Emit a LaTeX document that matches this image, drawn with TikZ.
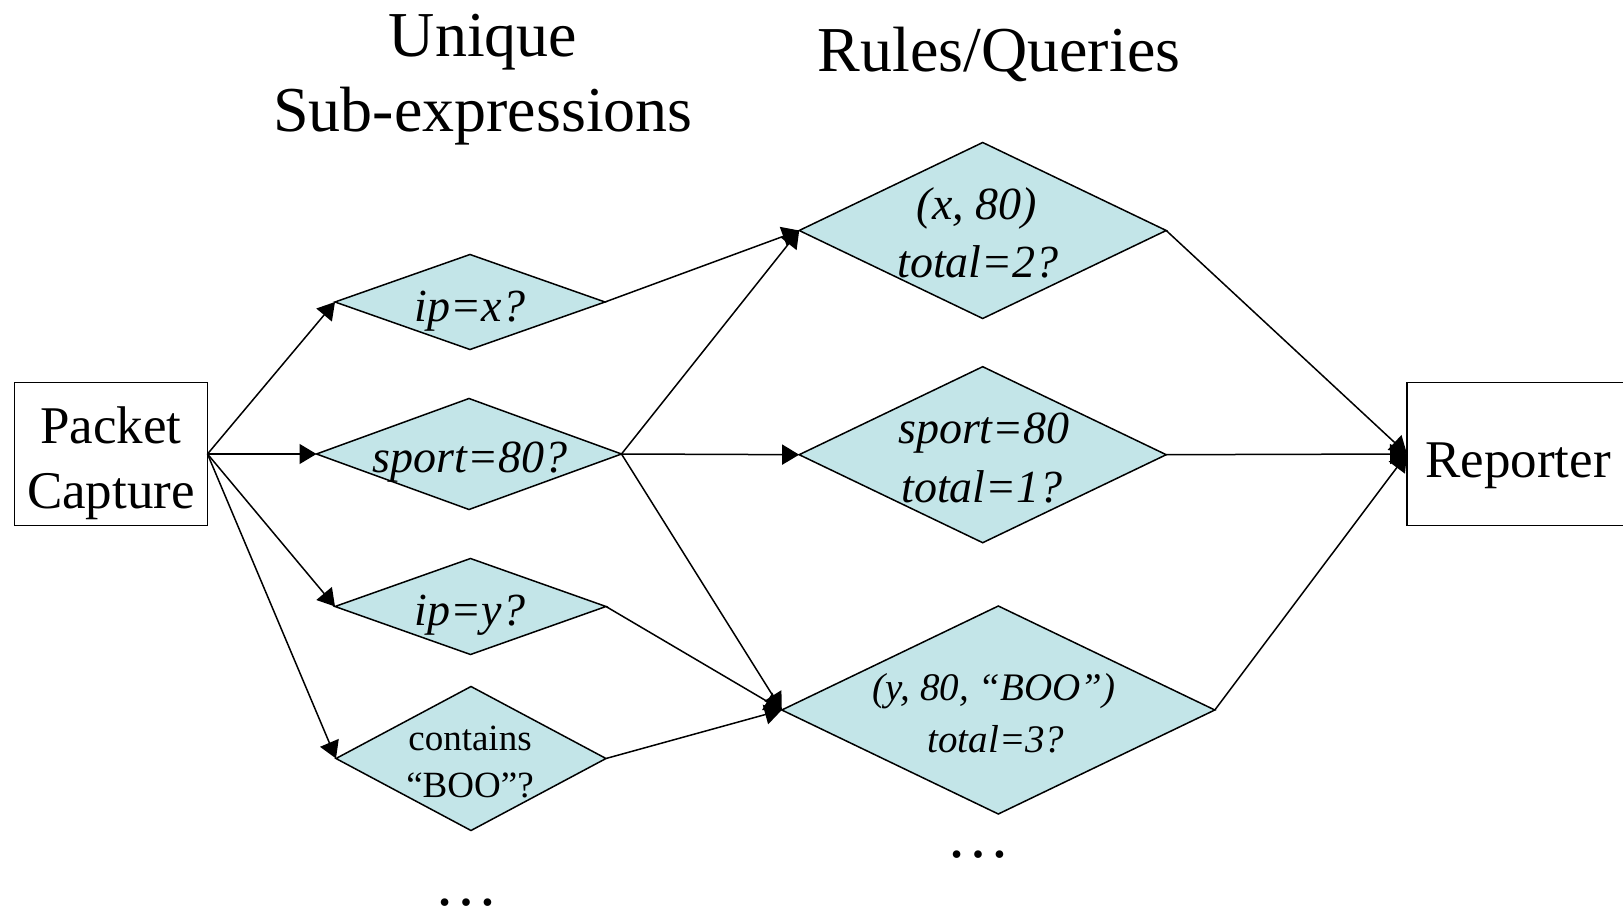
\documentclass[tikz,border=0pt]{standalone}
\usepackage{fontspec}
\setmainfont{Liberation Serif}
\usetikzlibrary{shapes.geometric,arrows.meta}
\definecolor{dfill}{RGB}{195,229,232}
\tikzset{
  dia/.style={diamond, draw=black, line width=1.5pt, fill=dfill, inner sep=0pt, outer sep=0pt},
  boxnode/.style={rectangle, draw=black, line width=1.5pt, inner sep=0pt, outer sep=0pt},
  title/.style={anchor=base, inner sep=0pt, font=\fontsize{64}{76}\selectfont},
  boxtxt/.style={anchor=base, inner sep=0pt, font=\fontsize{53}{64}\selectfont},
  itxt/.style={anchor=base, inner sep=0pt, font=\fontsize{46}{55}\selectfont\itshape},
  stxt/.style={anchor=base, inner sep=0pt, font=\fontsize{39}{47}\selectfont\itshape},
  ctxt/.style={anchor=base, inner sep=0pt, font=\fontsize{37}{45}\selectfont},
  dots/.style={anchor=base, inner sep=0pt, font=\fontsize{64}{76}\selectfont},
  arr/.style={line width=1.5pt, -{Triangle[length=17pt,width=20pt]}},
  ln/.style={line width=1.5pt}
}
\begin{document}
\begin{tikzpicture}[x=1pt,y=-1pt]
\useasboundingbox (0,0) rectangle (1623,909);
% titles
\node[title] (t1) at (483,57) {Unique};
\node[title] (t2) at (483,132) {Sub-expressions};
\node[title] (t3) at (999,72) {Rules/Queries};
% boxes
\node[boxnode, minimum width=193, minimum height=143] (pc) at (111,454) {};
\node[boxtxt] (pc1) at (111,443) {Packet};
\node[boxtxt] (pc2) at (111,508) {Capture};
\node[boxnode, minimum width=233, minimum height=143] (rep) at (1523.5,454) {};
\node[boxtxt, anchor=base west] (rept) at (1425,477) {Reporter};
% sub-expression diamonds
\node[dia, minimum width=270, minimum height=95] (ipx) at (470,302) {};
\node[itxt] (ipxt) at (470,322) {ip=x?};
\node[dia, minimum width=305, minimum height=111] (sp) at (469,454) {};
\node[itxt] (spt) at (470,472) {sport=80?};
\node[dia, minimum width=271, minimum height=96] (ipy) at (470.5,606.5) {};
\node[itxt] (ipyt) at (470,625) {ip=y?};
\node[dia, minimum width=270, minimum height=144] (boo) at (471,758.5) {};
\node[ctxt] (boot1) at (470,750) {contains};
\node[ctxt] (boot2) at (470,797) {“BOO”?};
\node[dots] (d1) at (466,905) {…};
% rule diamonds
\node[dia, minimum width=367, minimum height=176] (r1) at (982.7,230.5) {};
\node[itxt] (r1a) at (977,220) {(x, 80)};
\node[itxt] (r1b) at (978,278) {total=2?};
\node[dia, minimum width=367, minimum height=176] (r2) at (982.7,454.7) {};
\node[itxt] (r2a) at (984,443) {sport=80};
\node[itxt] (r2b) at (982,502) {total=1?};
\node[dia, minimum width=433, minimum height=208] (r3) at (998.3,710) {};
\node[stxt] (r3a) at (994,700) {(y, 80, “BOO”)};
\node[stxt] (r3b) at (996,752) {total=3?};
\node[dots] (d2) at (978,857) {…};
% connectors
\draw[arr] (pc.east) -- (ipx.west);
\draw[arr] (pc.east) -- (sp.west);
\draw[arr] (pc.east) -- (ipy.west);
\draw[arr] (pc.east) -- (boo.west);
\draw[arr] (ipx.east) -- (r1.west);
\draw[arr] (sp.east) -- (r1.west);
\draw[arr] (sp.east) -- (r2.west);
\draw[arr] (sp.east) -- (r3.west);
\draw[arr] (ipy.east) -- (r3.west);
\draw[arr] (boo.east) -- (r3.west);
\draw[arr] (r1.east) -- (rep.west);
\draw[arr] (r2.east) -- (rep.west);
\draw[arr] (r3.east) -- (rep.west);
\end{tikzpicture}
\end{document}
